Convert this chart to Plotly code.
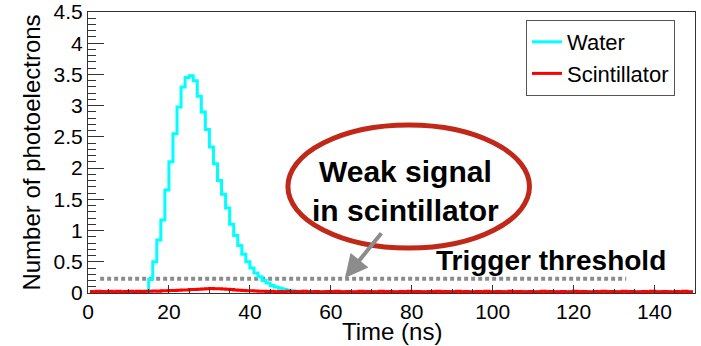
import plotly.graph_objects as go

# ---- data (1 ns bins from 0 to 150 ns) ----
bin_centers = [i + 0.5 for i in range(150)]

water = [
    0.010, 0.010, 0.012, 0.010, 0.015, 0.010, 0.012, 0.010, 0.015, 0.012,
    0.010, 0.015, 0.012, 0.020, 0.030, 0.220, 0.500, 0.850, 1.170, 1.650,
    2.100, 2.550, 2.980, 3.300, 3.450, 3.480, 3.400, 3.150, 2.900, 2.620,
    2.340, 2.070, 1.800, 1.580, 1.360, 1.100, 0.920, 0.760, 0.620, 0.500,
    0.400, 0.320, 0.260, 0.200, 0.160, 0.120, 0.095, 0.075, 0.060, 0.045,
    0.035, 0.030, 0.028, 0.025, 0.025, 0.022, 0.020, 0.025, 0.020, 0.018,
    0.022, 0.020, 0.025, 0.018, 0.020, 0.022, 0.020, 0.018, 0.025, 0.020,
    0.022, 0.018, 0.020, 0.025, 0.020, 0.018, 0.022, 0.020, 0.025, 0.020,
    0.018, 0.022, 0.020, 0.025, 0.020, 0.018, 0.022, 0.020, 0.018, 0.025,
    0.020, 0.022, 0.018, 0.020, 0.025, 0.022, 0.020, 0.018, 0.025, 0.020,
    0.022, 0.018, 0.020, 0.030, 0.020, 0.018, 0.022, 0.030, 0.020, 0.018,
    0.025, 0.020, 0.022, 0.030, 0.020, 0.018, 0.025, 0.020, 0.022, 0.030,
    0.020, 0.018, 0.025, 0.022, 0.020, 0.030, 0.020, 0.018, 0.022, 0.020,
    0.025, 0.018, 0.020, 0.022, 0.030, 0.020, 0.018, 0.025, 0.020, 0.022,
    0.030, 0.020, 0.018, 0.025, 0.022, 0.020, 0.018, 0.022, 0.020, 0.018,
]

scintillator = [
    0.025, 0.020, 0.030, 0.025, 0.020, 0.028, 0.022, 0.030, 0.020, 0.025,
    0.028, 0.022, 0.030, 0.025, 0.028, 0.030, 0.032, 0.030, 0.035, 0.038,
    0.040, 0.042, 0.045, 0.048, 0.050, 0.055, 0.058, 0.062, 0.065, 0.070,
    0.072, 0.070, 0.068, 0.065, 0.060, 0.055, 0.050, 0.045, 0.040, 0.038,
    0.035, 0.032, 0.030, 0.028, 0.025, 0.030, 0.022, 0.025, 0.020, 0.028,
    0.022, 0.025, 0.020, 0.028, 0.022, 0.020, 0.025, 0.018, 0.022, 0.025,
    0.020, 0.028, 0.022, 0.020, 0.025, 0.018, 0.022, 0.028, 0.020, 0.025,
    0.022, 0.020, 0.028, 0.022, 0.025, 0.020, 0.018, 0.025, 0.022, 0.028,
    0.020, 0.025, 0.022, 0.018, 0.025, 0.020, 0.028, 0.022, 0.025, 0.020,
    0.022, 0.028, 0.020, 0.025, 0.018, 0.022, 0.025, 0.020, 0.028, 0.022,
    0.020, 0.025, 0.022, 0.018, 0.028, 0.020, 0.025, 0.022, 0.020, 0.025,
    0.018, 0.022, 0.028, 0.020, 0.025, 0.022, 0.020, 0.025, 0.018, 0.022,
    0.028, 0.020, 0.025, 0.022, 0.018, 0.025, 0.020, 0.028, 0.022, 0.025,
    0.020, 0.022, 0.028, 0.020, 0.025, 0.018, 0.022, 0.025, 0.020, 0.028,
    0.022, 0.020, 0.025, 0.022, 0.018, 0.025, 0.020, 0.028, 0.022, 0.020,
]

threshold_value = 0.23
threshold_x = [3, 133]

x_ticks = [0, 20, 40, 60, 80, 100, 120, 140]
y_ticks = [0, 0.5, 1, 1.5, 2, 2.5, 3, 3.5, 4, 4.5]
y_tick_labels = ["0", "0.5", "1", "1.5", "2", "2.5", "3", "3.5", "4", "4.5"]

FONT = "Liberation Sans, Arial, Helvetica, sans-serif"

fig = go.Figure()

fig.add_trace(go.Scatter(
    x=threshold_x, y=[threshold_value, threshold_value], mode="lines",
    line=dict(color="#8c8c8c", width=4, dash="4px,3px"),
    showlegend=False, hoverinfo="skip",
))

fig.add_trace(go.Scatter(
    x=bin_centers, y=water, mode="lines", name="Water",
    line=dict(color="#00ffff", width=3, shape="hvh"),
))
fig.add_trace(go.Scatter(
    x=bin_centers, y=scintillator, mode="lines", name="Scintillator",
    line=dict(color="#ff0000", width=3, shape="hvh"),
))

# Ellipse
fig.add_shape(type="circle", xref="x", yref="y",
              x0=49.4, x1=109.1, y0=0.72, y1=2.69,
              line=dict(color="#c0281a", width=5), fillcolor="white", layer="above")

fig.add_annotation(
    x=78.5, y=1.63, xref="x", yref="y",
    text="<b>Weak signal<br>in scintillator</b>", showarrow=False,
    font=dict(family=FONT, size=30, color="black"), align="center",
)

# Arrow
fig.add_annotation(
    x=63.5, y=0.24, ax=72.8, ay=0.98, xref="x", yref="y", axref="x", ayref="y",
    text="", showarrow=True, arrowhead=2, arrowsize=1.15, arrowwidth=4,
    arrowcolor="#8c8c8c",
)

fig.add_annotation(
    x=114.3, y=0.52, xref="x", yref="y",
    text="<b>Trigger threshold</b>", showarrow=False,
    font=dict(family=FONT, size=28, color="black"),
)

# x-axis title
fig.add_annotation(
    x=0.5, y=-0.137, xref="paper", yref="paper",
    text="Time (ns)", showarrow=False, yanchor="middle",
    font=dict(family=FONT, size=24, color="black"),
)

fig.update_layout(
    width=701, height=346,
    margin=dict(l=88, r=6, t=12, b=53, autoexpand=False),
    paper_bgcolor="white", plot_bgcolor="white",
    font=dict(family=FONT, color="black"),
    legend=dict(
        x=0.7216, y=0.9715, xanchor="left", yanchor="top",
        bgcolor="white", bordercolor="#555555", borderwidth=1,
        font=dict(family=FONT, size=22, color="black"),
        tracegroupgap=0, itemwidth=30,
    ),
    showlegend=True,
)

fig.update_xaxes(
    range=[0, 150], tickvals=x_ticks, ticks="inside", ticklen=8, tickwidth=1,
    tickcolor="#333333", showgrid=False, zeroline=False, automargin=False,
    showline=True, linecolor="#333333", linewidth=1, mirror=True,
    tickfont=dict(family=FONT, size=21, color="black"),
    minor=dict(ticks="inside", ticklen=4, dtick=5, tickcolor="#333333", showgrid=False),
)
fig.update_yaxes(
    range=[0, 4.5], tickvals=y_ticks, ticktext=y_tick_labels, ticks="inside",
    ticklen=16, tickwidth=1, tickcolor="#333333", showgrid=False, zeroline=False,
    showline=True, linecolor="#333333", linewidth=1, mirror=True, automargin=False,
    ticklabeloverflow="allow",
    tickfont=dict(family=FONT, size=21, color="black"),
    minor=dict(ticks="inside", ticklen=8, dtick=0.1, tickcolor="#333333", showgrid=False),
    title=dict(text="Number of photoelectrons", font=dict(family=FONT, size=24, color="black"), standoff=6),
)

fig.write_html(
    "out.html",
    config={"displayModeBar": False},
    post_script="document.body.style.margin='0';",
)
